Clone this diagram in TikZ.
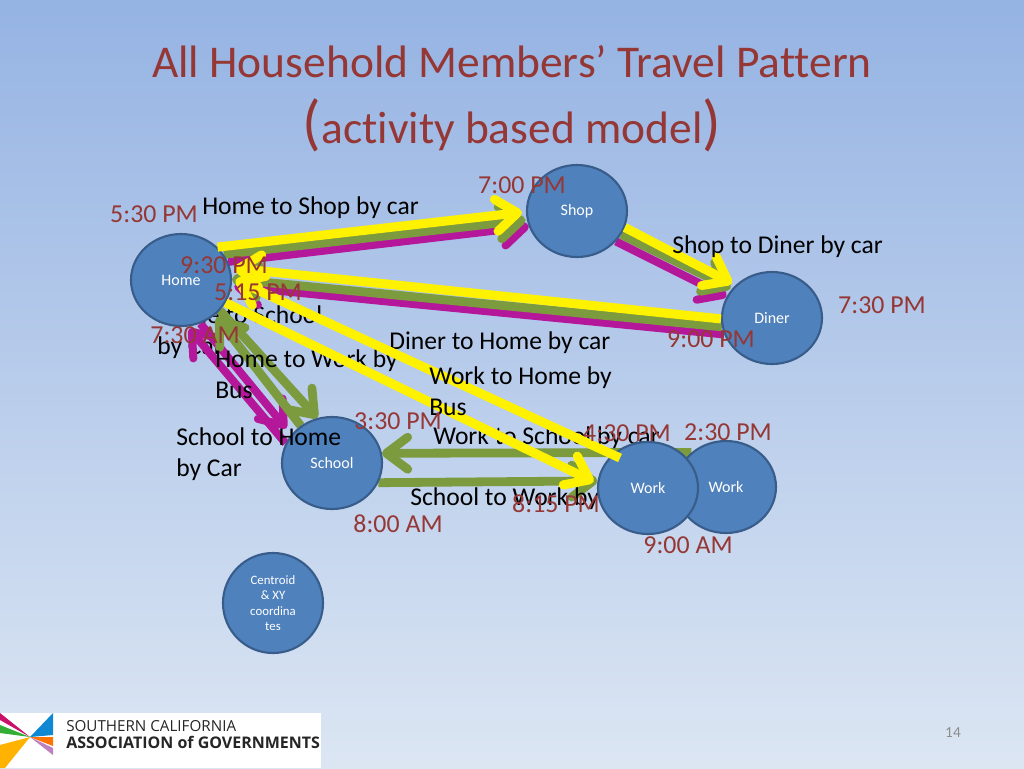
\documentclass[tikz,border=0pt]{standalone}
\usepackage{fontspec}
\setmainfont[Ligatures=NoCommon]{Carlito}
\newfontfamily\logofont{Open Sans}
\usetikzlibrary{arrows.meta,shapes.geometric}
\pgfdeclarelayer{under}
\pgfsetlayers{under,main}
\definecolor{placeFill}{HTML}{4F81BD}
\definecolor{placeEdge}{HTML}{385D8A}
\definecolor{timeRed}{HTML}{953735}
\definecolor{busOlive}{HTML}{7C9A3E}
\definecolor{carMagenta}{HTML}{B5179A}
\definecolor{skyTop}{RGB}{149,179,227}
\definecolor{skyBottom}{RGB}{220,230,243}
\begin{document}
\begin{tikzpicture}
[x=0.75pt,y=-0.75pt,%
  placeDecorate/.style={shape=ellipse,minimum width=75pt,minimum height=69pt,inner sep=0pt,
    draw=placeEdge,line width=1.6pt,fill=placeFill,text=white,font=\fontsize{12}{13}\selectfont},
  timeDecorate/.style={text=timeRed,yshift=-0.3pt,font=\fontsize{19.4}{23}\selectfont},
  tripDecorate/.style={anchor=west,align=left,text=black,inner sep=0pt,yshift=-1pt,font=\fontsize{19.2}{23.25}\selectfont},
  barbDecorate/.style={-{Straight Barb[length=16pt,width=24pt,round]},line width=6.8pt},
  lineYellow/.style={barbDecorate,draw=yellow,shorten >=3pt},
  lineOlive/.style={barbDecorate,line width=6.6pt,draw=busOlive},
  lineMagenta/.style={barbDecorate,line width=6pt,draw=carMagenta}]
\useasboundingbox (0,0) rectangle (1024,768);
%% places
\foreach \nodename/\x/\y/\nodetext in {
  Home/181/280/Home, Shop/577/211/Shop, Diner/772/318/Diner, School/332/463/School,
  WorkB/726/487/Work, WorkA/648/488/Work}
{
  \node (\nodename) at (\x,\y) [placeDecorate] {\nodetext};
}
\node (centroid) at (273,603) [placeDecorate,minimum height=75pt,align=center,font=\fontsize{9.6}{11.7}\selectfont] {Centroid\\\& XY\\coordina\\tes};
\coordinate (workStart) at (620,458);
\begin{pgfonlayer}{under}
\shade [top color=skyTop,bottom color=skyBottom] (0,0) rectangle (1024,768);
%% text under the lines
\node (homeSchool) at (157,331) [tripDecorate] {Home to School\\by Car};
%% magenta lines
\foreach \startnode/\endnode/\cut in {
  Home.21/Shop.198/0pt, Shop.-38/Diner.155/0pt, Diner.199/Home.-7/2pt,
  Home.-66/School.145/6pt, School.157/Home.-82/2pt}
{
  \draw [lineMagenta,shorten >=\cut] (\startnode) -- (\endnode);
}
%% olive lines
\foreach \startnode/\endnode/\cut in {
  Home.31/Shop.190/1pt, Shop.-28/Diner.144/1pt, Diner.190/Home.1/0pt,
  Home.-38/School.108/0pt, School.130/Home.-46/2pt, WorkB.135/School.11/0pt, School.-23/WorkA.172/0pt}
{
  \draw [lineOlive,shorten >=\cut] (\startnode) -- (\endnode);
}
%% text that the circles cover
\node (workSchool) at (433,436) [tripDecorate] {Work to School by car};
\node (schoolWork) at (410,497) [tripDecorate] {School to Work by Bus};
\end{pgfonlayer}
%% title
\node (title1) at (512,62) [text=timeRed,font=\fontsize{34.1}{40}\selectfont] {All Household Members’ Travel Pattern};
\node (title2) at (512,125) [text=timeRed,font=\fontsize{34.1}{40}\selectfont]
  {{\fontsize{46}{40}\selectfont(}activity based model{\fontsize{46}{40}\selectfont)}};
%% text under the yellow lines
\node (homeShop) at (202,206) [tripDecorate] {Home to Shop by car};
\node (dinerHome) at (389,341) [tripDecorate] {Diner to Home by car};
\node (homeWork) at (215,373) [tripDecorate] {Home to Work by\\Bus};
\node (schoolHome) at (176,452.5) [tripDecorate] {School to Home\\by Car};
%% yellow lines
\foreach \startnode/\endnode in {
  Home.42/Shop.181, Shop.-19/Diner.138, Diner.181/Home.14, workStart/Home.2, Home.-27/WorkA.175}
{
  \draw [lineYellow] (\startnode) -- (\endnode);
}
\node (shopDiner) at (672,245) [tripDecorate] {Shop to Diner by car};
\node (workHome) at (429,389.5) [tripDecorate] {Work to Home by\\Bus};
%% times
\foreach \nodename/\x/\y/\nodetext in {
  t1/154/214/5:30 PM, t2/522/185/7:00 PM, t3/882/305/7:30 PM, t4/224/265/9:30 PM,
  t5/258/292/5:15 PM, t6/195/335/7:30 AM, t7/398/421/3:30 PM, t8/627/433/4:30 PM,
  t9/728/432/2:30 PM, t10/556/503/8:15 PM, t11/398/523/8:00 AM, t12/688/545/9:00 AM,
  t13/711/339/9:00 PM}
{
  \node (\nodename) at (\x,\y) [timeDecorate] {\nodetext};
}
%% footer
\fill [white] (0,713) rectangle (321,768);
\fill [carMagenta!70!red] (30,737) -- (0,713) -- (0,720) -- cycle;
\fill [green!60!black!80!white] (30,737) -- (0,725) -- (0,733) -- cycle;
\fill [orange!60!yellow] (30,737) -- (0,745) -- (0,768) -- (5,768) -- cycle;
\fill [cyan!70!blue] (30,737) -- (53,713) -- (53,735) -- cycle;
\fill [orange!90!red] (30,737) -- (53,737) -- (53,746) -- cycle;
\fill [violet!50!white] (30,737) -- (53,748) -- (53,755) -- cycle;
\node (logo1) at (66,726) [anchor=west,inner sep=0pt,text=black!85,font=\logofont\fontsize{11.4}{12}\selectfont] {SOUTHERN CALIFORNIA};
\node (logo2) at (66,742) [anchor=west,inner sep=0pt,text=black!85,font=\logofont\bfseries\fontsize{12}{12}\selectfont] {ASSOCIATION of GOVERNMENTS};
\node (page) at (953,733) [text=black!45,font=\fontsize{11.5}{12}\selectfont] {14};
\end{tikzpicture}
\end{document}
